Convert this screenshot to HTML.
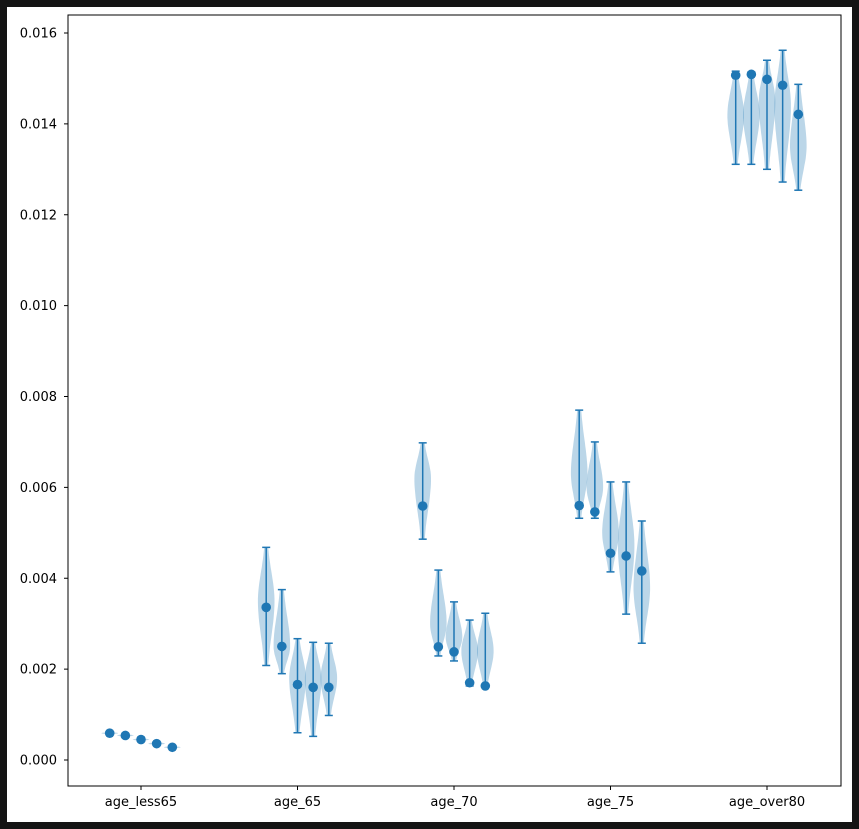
<!DOCTYPE html>
<html><head><meta charset="utf-8">
<style>
html,body{margin:0;padding:0;background:#141414;}
svg{display:block;}
text{font-family:"DejaVu Sans","Liberation Sans",sans-serif;font-size:13px;fill:#000;}
</style></head>
<body>
<svg id="chart" width="859" height="829">
<rect x="7" y="7" width="845" height="815" fill="#fff"/>
<g id="plot"></g>
</svg>
<script>
const categories = ["age_less65","age_65","age_70","age_75","age_over80"];
const yTicks = [0,0.002,0.004,0.006,0.008,0.010,0.012,0.014,0.016];
const yTickLabels = ["0.000","0.002","0.004","0.006","0.008","0.010","0.012","0.014","0.016"];
const medians = [
 [0.00059,0.00054,0.00045,0.00036,0.00028],
 [0.00336,0.0025,0.00166,0.0016,0.0016],
 [0.00559,0.00249,0.00238,0.0017,0.00163],
 [0.0056,0.00546,0.00455,0.00449,0.00416],
 [0.01507,0.01509,0.01498,0.01485,0.01421]];
const mins = [
 [0.00056,0.00051,0.00042,0.00033,0.00025],
 [0.00208,0.0019,0.0006,0.00052,0.00098],
 [0.00486,0.00229,0.00218,0.00163,0.00160],
 [0.00532,0.00532,0.00414,0.00321,0.00257],
 [0.01311,0.01311,0.0130,0.01272,0.01254]];
const maxs = [
 [0.00062,0.00057,0.00048,0.00040,0.00031],
 [0.00468,0.00375,0.00267,0.00259,0.00257],
 [0.00698,0.00418,0.00348,0.00308,0.00323],
 [0.0077,0.0070,0.00612,0.00612,0.00526],
 [0.01516,0.01514,0.0154,0.01562,0.01487]];
const modes = [
 [0.00059,0.00054,0.00045,0.00036,0.00028],
 [0.0035,0.0025,0.0018,0.0018,0.0018],
 [0.0062,0.0030,0.0027,0.0024,0.0024],
 [0.0063,0.0060,0.0050,0.0047,0.0038],
 [0.0142,0.0142,0.0145,0.0144,0.0135]];

const ax = {l:68,r:841,t:15,b:786};
const y = v => 760 - v/0.016*(760-33);
const xCat = i => 141 + i*156.5;
const offs = [-31.3,-15.65,0,15.65,31.3];
const NS="http://www.w3.org/2000/svg";
const g=document.getElementById('plot');
function el(t,a){const e=document.createElementNS(NS,t);for(const k in a)e.setAttribute(k,a[k]);g.appendChild(e);return e;}

categories.forEach((c,ci)=>{
 for(let j=0;j<5;j++){
  const cx=xCat(ci)+offs[j];
  const lo=mins[ci][j],hi=maxs[ci][j],md=modes[ci][j];
  const W=7.5, n=30;
  const left=[],right=[];
  for(let k=0;k<=n;k++){
   const v=lo+(hi-lo)*k/n;
   const s=(v<md?(md-lo):(hi-md))||1e-9;
   const d=(v-md)/s;
   const w=W*Math.exp(-1.8*d*d)+0.8;
   left.push((cx-w).toFixed(1)+","+y(v).toFixed(1));
   right.unshift((cx+w).toFixed(1)+","+y(v).toFixed(1));
  }
  const p=el('polygon',{points:left.concat(right).join(' '),fill:'#1f77b4','fill-opacity':0.3});
  
  
  const ln=el('line',{x1:cx,x2:cx,y1:y(lo),y2:y(hi),stroke:'#1f77b4','stroke-width':1.5});
  
  
  [lo,hi].forEach(v=>{
   const cap=el('line',{x1:cx-4,x2:cx+4,y1:y(v),y2:y(v),stroke:'#1f77b4','stroke-width':1.5});
   
   
  });
  const pt=el('circle',{cx:cx,cy:y(medians[ci][j]),r:4.8,fill:'#1f77b4'});
  
  
 }
 const tk=el('line',{x1:xCat(ci),x2:xCat(ci),y1:ax.b,y2:ax.b+4,stroke:'#000'});
 
 
 const tl=el('text',{x:xCat(ci),y:ax.b+20,'text-anchor':'middle'});
 tl.textContent=c;
 
 
});
yTicks.forEach((v,i)=>{
 const tk=el('line',{x1:ax.l-4,x2:ax.l,y1:y(v),y2:y(v),stroke:'#000'});
 
 
 const tl=el('text',{x:ax.l-11,y:y(v)+4.5,'text-anchor':'end'});
 tl.textContent=yTickLabels[i];
 
 
});
const fr=el('rect',{x:ax.l,y:ax.t,width:ax.r-ax.l,height:ax.b-ax.t,fill:'none',stroke:'#000','stroke-width':1});


</script>
</body></html>
